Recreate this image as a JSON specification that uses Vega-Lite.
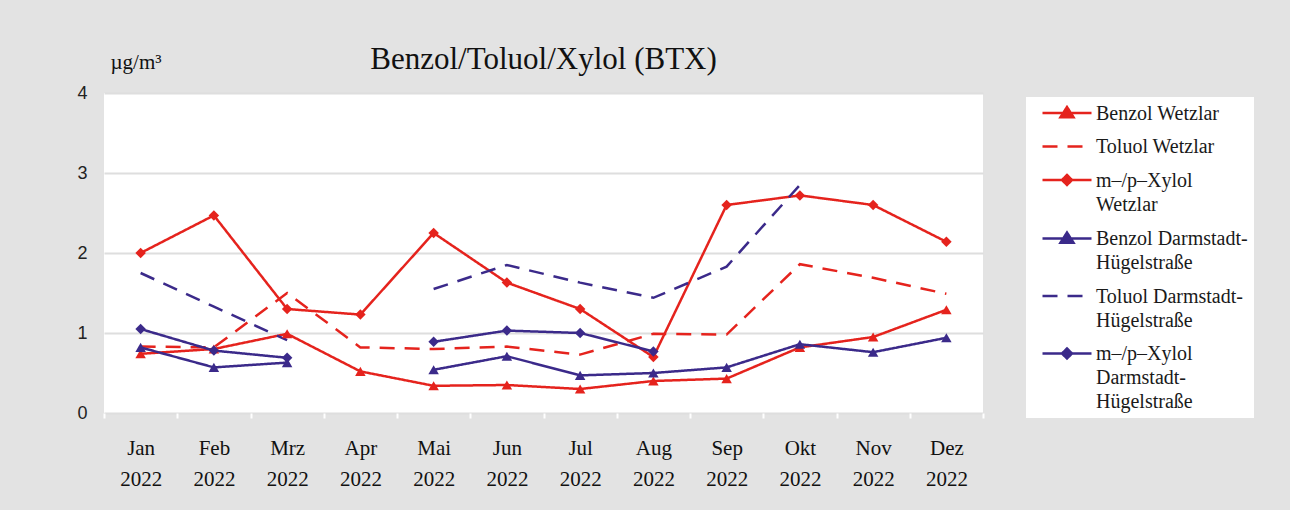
{
  "$schema": "https://vega.github.io/schema/vega-lite/v6.json",
  "width": 879,
  "height": 320,
  "autosize": {"type": "none"},
  "padding": {"left": 104, "top": 93, "right": 307, "bottom": 97},
  "background": "#e3e3e3",
  "title": {"text": "Benzol/Toluol/Xylol (BTX)", "anchor": "middle", "font": "Liberation Serif", "fontSize": 31, "fontWeight": "normal", "color": "#111111", "offset": 16, "dy": 41},
  "data": {"values": [
    {"m":"Jan","s":"Benzol Wetzlar","v":0.74},{"m":"Feb","s":"Benzol Wetzlar","v":0.80},{"m":"Mrz","s":"Benzol Wetzlar","v":0.99},{"m":"Apr","s":"Benzol Wetzlar","v":0.52},{"m":"Mai","s":"Benzol Wetzlar","v":0.34},{"m":"Jun","s":"Benzol Wetzlar","v":0.35},{"m":"Jul","s":"Benzol Wetzlar","v":0.30},{"m":"Aug","s":"Benzol Wetzlar","v":0.40},{"m":"Sep","s":"Benzol Wetzlar","v":0.43},{"m":"Okt","s":"Benzol Wetzlar","v":0.82},{"m":"Nov","s":"Benzol Wetzlar","v":0.95},{"m":"Dez","s":"Benzol Wetzlar","v":1.29},
    {"m":"Jan","s":"Toluol Wetzlar","v":0.83},{"m":"Feb","s":"Toluol Wetzlar","v":0.82},{"m":"Mrz","s":"Toluol Wetzlar","v":1.50},{"m":"Apr","s":"Toluol Wetzlar","v":0.82},{"m":"Mai","s":"Toluol Wetzlar","v":0.80},{"m":"Jun","s":"Toluol Wetzlar","v":0.83},{"m":"Jul","s":"Toluol Wetzlar","v":0.73},{"m":"Aug","s":"Toluol Wetzlar","v":0.99},{"m":"Sep","s":"Toluol Wetzlar","v":0.98},{"m":"Okt","s":"Toluol Wetzlar","v":1.86},{"m":"Nov","s":"Toluol Wetzlar","v":1.69},{"m":"Dez","s":"Toluol Wetzlar","v":1.49},
    {"m":"Jan","s":"m–/p–Xylol Wetzlar","v":2.00},{"m":"Feb","s":"m–/p–Xylol Wetzlar","v":2.47},{"m":"Mrz","s":"m–/p–Xylol Wetzlar","v":1.30},{"m":"Apr","s":"m–/p–Xylol Wetzlar","v":1.23},{"m":"Mai","s":"m–/p–Xylol Wetzlar","v":2.25},{"m":"Jun","s":"m–/p–Xylol Wetzlar","v":1.63},{"m":"Jul","s":"m–/p–Xylol Wetzlar","v":1.30},{"m":"Aug","s":"m–/p–Xylol Wetzlar","v":0.70},{"m":"Sep","s":"m–/p–Xylol Wetzlar","v":2.60},{"m":"Okt","s":"m–/p–Xylol Wetzlar","v":2.72},{"m":"Nov","s":"m–/p–Xylol Wetzlar","v":2.60},{"m":"Dez","s":"m–/p–Xylol Wetzlar","v":2.14},
    {"m":"Jan","s":"Benzol Darmstadt-Hügelstraße","v":0.82},{"m":"Feb","s":"Benzol Darmstadt-Hügelstraße","v":0.57},{"m":"Mrz","s":"Benzol Darmstadt-Hügelstraße","v":0.63},{"m":"Apr","s":"Benzol Darmstadt-Hügelstraße","v":null},{"m":"Mai","s":"Benzol Darmstadt-Hügelstraße","v":0.54},{"m":"Jun","s":"Benzol Darmstadt-Hügelstraße","v":0.71},{"m":"Jul","s":"Benzol Darmstadt-Hügelstraße","v":0.47},{"m":"Aug","s":"Benzol Darmstadt-Hügelstraße","v":0.50},{"m":"Sep","s":"Benzol Darmstadt-Hügelstraße","v":0.57},{"m":"Okt","s":"Benzol Darmstadt-Hügelstraße","v":0.86},{"m":"Nov","s":"Benzol Darmstadt-Hügelstraße","v":0.76},{"m":"Dez","s":"Benzol Darmstadt-Hügelstraße","v":0.94},
    {"m":"Jan","s":"Toluol Darmstadt-Hügelstraße","v":1.75},{"m":"Feb","s":"Toluol Darmstadt-Hügelstraße","v":1.33},{"m":"Mrz","s":"Toluol Darmstadt-Hügelstraße","v":0.91},{"m":"Apr","s":"Toluol Darmstadt-Hügelstraße","v":null},{"m":"Mai","s":"Toluol Darmstadt-Hügelstraße","v":1.55},{"m":"Jun","s":"Toluol Darmstadt-Hügelstraße","v":1.85},{"m":"Jul","s":"Toluol Darmstadt-Hügelstraße","v":1.63},{"m":"Aug","s":"Toluol Darmstadt-Hügelstraße","v":1.44},{"m":"Sep","s":"Toluol Darmstadt-Hügelstraße","v":1.83},{"m":"Okt","s":"Toluol Darmstadt-Hügelstraße","v":2.85},{"m":"Nov","s":"Toluol Darmstadt-Hügelstraße","v":null},{"m":"Dez","s":"Toluol Darmstadt-Hügelstraße","v":null},
    {"m":"Jan","s":"m–/p–Xylol Darmstadt-Hügelstraße","v":1.05},{"m":"Feb","s":"m–/p–Xylol Darmstadt-Hügelstraße","v":0.78},{"m":"Mrz","s":"m–/p–Xylol Darmstadt-Hügelstraße","v":0.69},{"m":"Apr","s":"m–/p–Xylol Darmstadt-Hügelstraße","v":null},{"m":"Mai","s":"m–/p–Xylol Darmstadt-Hügelstraße","v":0.89},{"m":"Jun","s":"m–/p–Xylol Darmstadt-Hügelstraße","v":1.03},{"m":"Jul","s":"m–/p–Xylol Darmstadt-Hügelstraße","v":1.00},{"m":"Aug","s":"m–/p–Xylol Darmstadt-Hügelstraße","v":0.77},{"m":"Sep","s":"m–/p–Xylol Darmstadt-Hügelstraße","v":null},{"m":"Okt","s":"m–/p–Xylol Darmstadt-Hügelstraße","v":null},{"m":"Nov","s":"m–/p–Xylol Darmstadt-Hügelstraße","v":null},{"m":"Dez","s":"m–/p–Xylol Darmstadt-Hügelstraße","v":null}
  ]},
  "encoding": {
    "x": {
      "field": "m", "type": "nominal",
      "sort": ["Jan","Feb","Mrz","Apr","Mai","Jun","Jul","Aug","Sep","Okt","Nov","Dez"],
      "scale": {"type": "band", "paddingInner": 0, "paddingOuter": 0},
      "axis": {
        "title": null, "labelAngle": 0, "labelExpr": "datum.label == null || datum.label == '' ? '' : [datum.label, '2022']",
        "labelFont": "Liberation Serif", "labelFontSize": 21, "labelColor": "#111111", "labelLineHeight": 31,
        "labelFlush": false, "labelOverlap": false, "labelBound": false,
        "labelPadding": 19, "tickBand": "extent", "ticks": true, "tickColor": "white", "tickWidth": 2, "tickSize": 5,
        "domain": false, "grid": false
      }
    },
    "y": {
      "field": "v", "type": "quantitative",
      "scale": {"domain": [0, 4], "nice": false},
      "axis": {
        "values": [0, 1, 2, 3, 4], "title": "µg/m³", "titleAngle": 0, "titleAlign": "left", "titleBaseline": "middle",
        "titleX": 6, "titleY": -31, "titleFont": "Liberation Serif", "titleFontSize": 21, "titleFontWeight": "normal", "titleColor": "#111111",
        "labelFont": "Liberation Sans", "labelFontSize": 18, "labelColor": "#222222", "labelPadding": 17,
        "ticks": false, "domain": false, "grid": true, "gridColor": "#dedede", "gridWidth": 2
      }
    }
  },
  "layer": [
    {
      "mark": {"type": "line", "strokeWidth": 2.5},
      "encoding": {
        "color": {
          "field": "s", "type": "nominal",
          "scale": {
            "domain": ["Benzol Wetzlar","Toluol Wetzlar","m–/p–Xylol Wetzlar","Benzol Darmstadt-Hügelstraße","Toluol Darmstadt-Hügelstraße","m–/p–Xylol Darmstadt-Hügelstraße"],
            "range": ["#e5231d","#e5231d","#e5231d","#3b2a8a","#3b2a8a","#3b2a8a"]
          },
          "legend": {
            "title": null, "orient": "none", "legendX": 922, "legendY": 4,
            "fillColor": "white", "padding": 6, "symbolOffset": 25, "labelOffset": 19,
            "rowPadding": 12.5, "symbolSize": 100, "symbolStrokeWidth": 2.5,
            "labelFont": "Liberation Serif", "labelFontSize": 20, "labelColor": "#1a1a1a", "labelLimit": 400,
            "labelBaseline": "top",
            "labelExpr": "datum.label == 'm–/p–Xylol Wetzlar' ? ['m–/p–Xylol','Wetzlar'] : datum.label == 'Benzol Darmstadt-Hügelstraße' ? ['Benzol Darmstadt-','Hügelstraße'] : datum.label == 'Toluol Darmstadt-Hügelstraße' ? ['Toluol Darmstadt-','Hügelstraße'] : datum.label == 'm–/p–Xylol Darmstadt-Hügelstraße' ? ['m–/p–Xylol','Darmstadt-','Hügelstraße'] : datum.label",
            "encode": {
              "symbols": {"update": {
                "shape": {"signal": "indexof(datum.value,'Benzol')==0 ? 'M-4.9,0H4.9M0,-1.2L1.3,0.85L-1.3,0.85Z' : indexof(datum.value,'m–')==0 ? 'M-4.9,0H4.9M0,-1L1,0L0,1L-1,0Z' : 'M-4.9,0H4.9'"},
                "stroke": {"scale": "color", "field": "value"},
                "fill": {"signal": "indexof(datum.value,'Toluol')==0 ? 'transparent' : scale('color', datum.value)"},
                "strokeDash": {"signal": "indexof(datum.value,'Toluol')==0 ? [17,10] : [1,0]"},
                "strokeWidth": {"value": 2.5}
              }},
              "labels": {"update": {"lineHeight": {"value": 24}, "dy": {"value": -9.5}}}
            }
          }
        },
        "strokeDash": {
          "field": "s", "type": "nominal", "legend": null,
          "scale": {
            "domain": ["Benzol Wetzlar","Toluol Wetzlar","m–/p–Xylol Wetzlar","Benzol Darmstadt-Hügelstraße","Toluol Darmstadt-Hügelstraße","m–/p–Xylol Darmstadt-Hügelstraße"],
            "range": [[1,0],[15,10],[1,0],[1,0],[15,10],[1,0]]
          }
        }
      }
    },
    {
      "transform": [{"filter": "indexof(datum.s,'Toluol') < 0"}],
      "mark": {"type": "point", "filled": true, "opacity": 1},
      "encoding": {
        "color": {"field": "s", "type": "nominal", "legend": null},
        "shape": {
          "field": "s", "type": "nominal", "legend": null,
          "scale": {
            "domain": ["Benzol Wetzlar","m–/p–Xylol Wetzlar","Benzol Darmstadt-Hügelstraße","m–/p–Xylol Darmstadt-Hügelstraße"],
            "range": ["triangle-up","diamond","triangle-up","diamond"]
          }
        },
        "size": {"value": 110}
      }
    }
  ],
  "config": {
    "font": "Liberation Serif",
    "view": {"fill": "white", "stroke": null}
  }
}
